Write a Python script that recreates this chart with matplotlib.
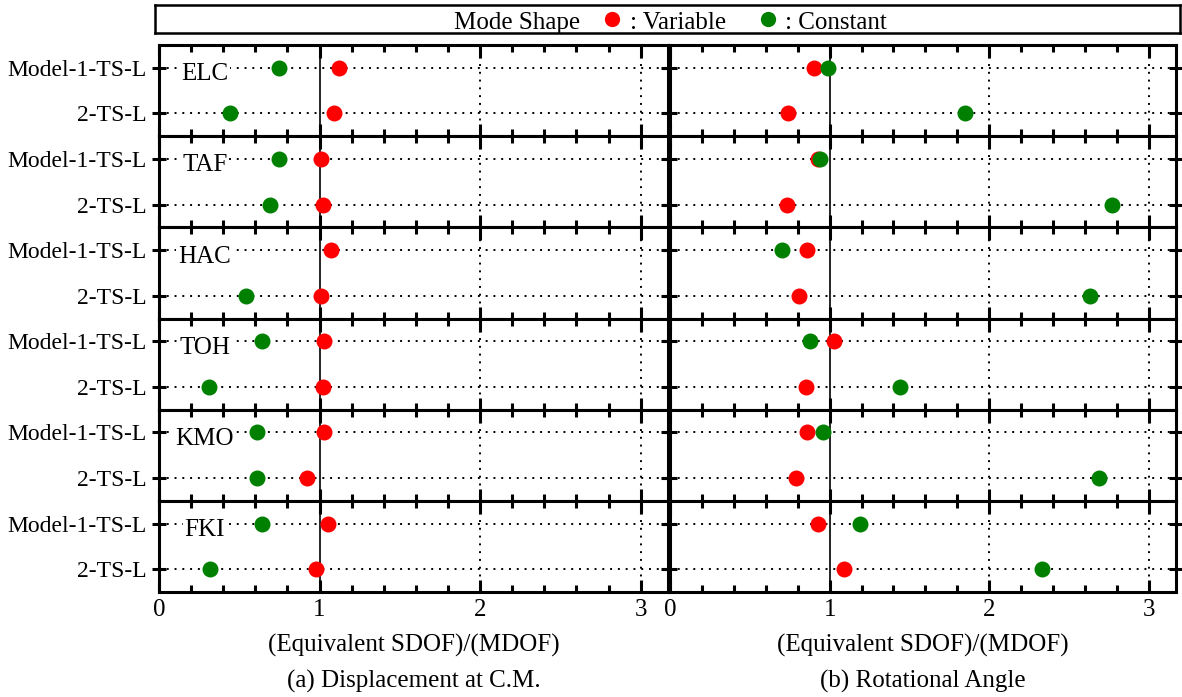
import numpy as np
import matplotlib.pyplot as plt
from matplotlib.ticker import MultipleLocator

plt.rcParams['font.family'] = ['Liberation Serif', 'DejaVu Serif']

# Earthquake records and model rows
quakes = ['ELC', 'TAF', 'HAC', 'TOH', 'KMO', 'FKI']
models = ['2-TS-L', 'Model-1-TS-L']   # y = 0, 1

# (Equivalent SDOF)/(MDOF) ratios, per quake: [2-TS-L, Model-1-TS-L]
# (a) displacement at C.M.
disp_var = [[1.09, 1.12], [1.02, 1.01], [1.01, 1.07], [1.02, 1.03], [0.92, 1.03], [0.98, 1.05]]
disp_con = [[0.44, 0.75], [0.69, 0.75], [0.54, np.nan], [0.31, 0.64], [0.61, 0.61], [0.32, 0.64]]
# (b) rotational angle
rot_var = [[0.74, 0.90], [0.73, 0.93], [0.81, 0.86], [0.85, 1.03], [0.79, 0.86], [1.09, 0.93]]
rot_con = [[1.85, 0.99], [2.77, 0.94], [2.63, 0.70], [1.44, 0.875], [2.69, 0.96], [2.33, 1.19]]

xticks = [0, 1, 2, 3]

panels = [(disp_var, disp_con, '(a) Displacement at C.M.'),
          (rot_var, rot_con, '(b) Rotational Angle')]

RED = '#ff0000'
GREEN = '#008000'
FS = 18

fig = plt.figure(figsize=(11.82, 6.97), dpi=100)
W, H = 1182, 697
x0s = [159, 670]
x1s = [668, 1176]
top, bot = 45, 592
nq = len(quakes)
hq = (bot - top) / nq

for p, (var, con, title) in enumerate(panels):
    for i, q in enumerate(quakes):
        yt = top + i * hq
        ax = fig.add_axes([x0s[p] / W, 1 - (yt + hq) / H, (x1s[p] - x0s[p]) / W, hq / H])
        ax.set_xlim(0, 3.17)
        ax.set_ylim(-0.5, 1.5)
        for s in ax.spines.values():
            s.set_linewidth(2.2)
        # grid
        for yv in [0, 1]:
            ax.axhline(yv, color='black', lw=1.4, ls=(0, (1, 3)), zorder=1)
        ax.axvline(1, color='black', lw=1.2, zorder=1)
        for xv in [2, 3]:
            ax.axvline(xv, color='black', lw=1.4, ls=(0, (1, 3)), zorder=1)
        ys = np.arange(len(models))
        ax.plot(var[i], ys, 'o', color=RED, ms=11.5, mec='none', zorder=3, clip_on=False)
        ax.plot(con[i], ys, 'o', color=GREEN, ms=11.5, mec='none', zorder=4, clip_on=False)
        if p == 0:
            ax.text(0.09, 0.86, q, transform=ax.get_yaxis_transform(), ha='center', va='center',
                    fontsize=FS, zorder=5,
                    bbox=dict(facecolor='white', edgecolor='none', pad=1.5))
        # ticks
        ax.set_xticks(xticks)
        ax.xaxis.set_minor_locator(MultipleLocator(0.2))
        ax.tick_params(axis='x', which='major', direction='in', top=True, bottom=True,
                       length=9, width=2.2, labelsize=FS, pad=5)
        ax.tick_params(axis='x', which='minor', direction='in', top=True, bottom=True,
                       length=5, width=2.2)
        ax.set_yticks(ys)
        ax.tick_params(axis='y', which='major', direction='inout', left=True, right=True,
                       length=10, width=2.2, labelsize=17, pad=4)
        if p == 0:
            ax.set_yticklabels(models)
        else:
            ax.set_yticklabels([])
        if i < nq - 1:
            ax.set_xticklabels([])
        else:
            ax.set_xticklabels([str(t) for t in xticks])
            ax.set_xlabel('(Equivalent SDOF)/(MDOF)', fontsize=FS, labelpad=9)
            ax.text(0.5, -0.98, title, transform=ax.transAxes, ha='center', va='center', fontsize=FS)

# legend box on top
lg = fig.add_axes([155 / W, 1 - 33 / H, (1180 - 155) / W, 28 / H])
lg.set_xticks([])
lg.set_yticks([])
for s in lg.spines.values():
    s.set_linewidth(1.8)
lg.set_xlim(155, 1180)
lg.set_ylim(0, 1)
lg.text(580, 0.45, 'Mode Shape', ha='right', va='center_baseline', fontsize=FS)
lg.plot([612], [0.5], 'o', color=RED, ms=11, mec='none')
lg.text(630, 0.45, ': Variable', ha='left', va='center_baseline', fontsize=FS)
lg.plot([768], [0.5], 'o', color=GREEN, ms=11, mec='none')
lg.text(785, 0.45, ': Constant', ha='left', va='center_baseline', fontsize=FS)

plt.savefig('out.png', dpi=100)
